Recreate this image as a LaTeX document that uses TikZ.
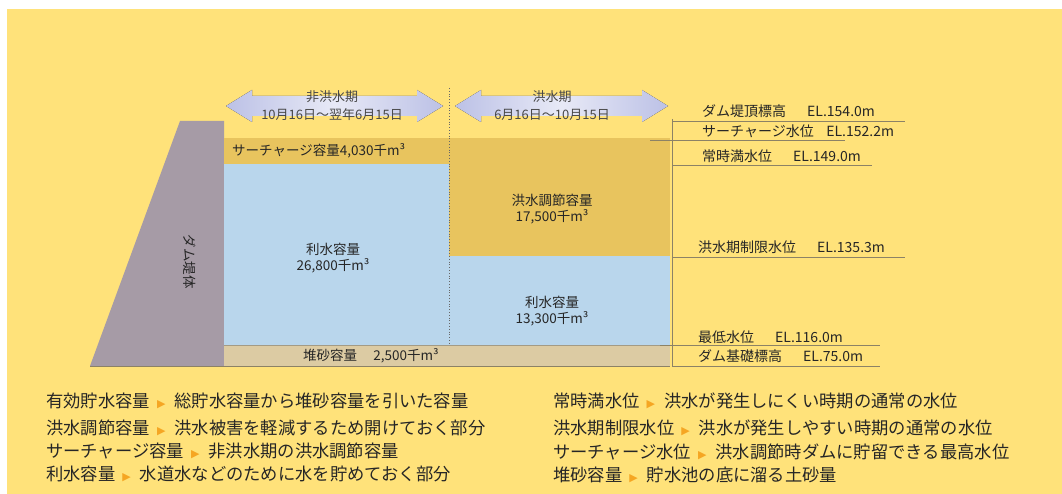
\documentclass[tikz,border=0pt]{standalone}
\usepackage{fontspec}
\setmainfont{Noto Sans CJK JP}
\newfontfamily\symfont{DejaVu Sans}
\definecolor{bg}{HTML}{FFE27A}
\definecolor{gold}{HTML}{E8C45E}
\definecolor{water}{HTML}{B9D6EC}
\definecolor{sand}{HTML}{DCCBA3}
\definecolor{dam}{HTML}{A69BA6}
\definecolor{lav}{HTML}{BCC1E6}
\definecolor{tri}{HTML}{F5A623}
\definecolor{ink}{HTML}{262626}
\definecolor{rule}{HTML}{8C8266}
\tikzset{
  blk/.style={font=\fontsize{13.5}{15.5}\selectfont, text=ink, align=center, inner sep=0pt},
  lvl/.style={font=\fontsize{14}{15}\selectfont, text=ink, anchor=west, inner sep=0pt},
  leg/.style={font=\fontsize{17.3}{18}\selectfont, text=ink, anchor=west, inner sep=0pt},
  per/.style={font=\fontsize{13}{14}\selectfont, text=ink!85, align=center, inner sep=0pt},
  thin rule/.style={draw=rule, line width=0.7pt},
  dblarrow/.style={left color=lav, right color=lav, middle color=lav!35!white, draw=none}
}
\newcommand{\tr}{\hspace{7pt}{\symfont\fontsize{11}{11}\selectfont\color{tri}▶}\hspace{9pt}}
\begin{document}
\begin{tikzpicture}[x=1pt,y=-1pt]
\useasboundingbox (0,0) rectangle (1062,494);
\fill[white] (0,0) rectangle (1062,494);
\fill[bg] (7,9) rectangle (1062,494);

% dam body
\fill[dam] (90,366) -- (180,121) -- (224,121) -- (224,366) -- cycle;

% left (non-flood period) storage
\fill[gold]  (224,138) rectangle (449,164);
\fill[water] (224,164) rectangle (449,345);
\fill[sand]  (224,345) rectangle (670,366);
% right (flood period) storage
\fill[gold]  (449,138) rectangle (670,256);
\fill[water] (449,256) rectangle (670,345);
\draw[rule!80, line width=0.5pt] (224,345) -- (670,345);
\draw[rule, line width=0.7pt] (90,366) -- (670,366);

% dotted divider
\draw[ink!70, line width=0.8pt, dotted] (449,88) -- (449,345);

% period arrows
\fill[dblarrow] (226,106) -- (252,90) -- (252,96) -- (417,96) -- (417,90) -- (443,106)
  -- (417,122) -- (417,116) -- (252,116) -- (252,122) -- cycle;
\fill[dblarrow] (455,106) -- (481,90) -- (481,96) -- (642,96) -- (642,90) -- (668,106)
  -- (642,122) -- (642,116) -- (481,116) -- (481,122) -- cycle;
\node[per] (np) at (332,97) {非洪水期};
\node[per] (npd) at (332,115) {10月16日～翌年6月15日};
\node[per] (fp) at (552,97) {洪水期};
\node[per] (fpd) at (552,115) {6月16日～10月15日};

% block labels
\node[blk, anchor=west] (sc) at (232,151) {サーチャージ容量4,030千m³};
\node[blk] (ri1) at (333,258) {利水容量\\26,800千m³};
\node[blk] (fc) at (552,209) {洪水調節容量\\17,500千m³};
\node[blk] (ri2) at (552,311) {利水容量\\13,300千m³};
\node[blk, anchor=west] (sd) at (303,356) {堆砂容量\hspace{1.2em}2,500千m³};
\node[blk, rotate=-90] (db) at (190,262) {ダム堤体};

% level lines
\draw[thin rule] (672,119) -- (672,366);
\draw[thin rule] (672,121) -- (905,121);
\draw[thin rule] (650,140) -- (845,140);
\draw[thin rule] (672,165) -- (872,165);
\draw[thin rule] (672,257) -- (905,257);
\draw[thin rule] (660,345) -- (880,345);
\draw[thin rule] (672,366) -- (880,366);

\node[lvl] (l1) at (702,111) {ダム堤頂標高\hspace{1.5em}EL.154.0m};
\node[lvl] (l2) at (702,131) {サーチャージ水位\hspace{0.9em}EL.152.2m};
\node[lvl] (l3) at (702,156) {常時満水位\hspace{1.5em}EL.149.0m};
\node[lvl] (l4) at (698,247) {洪水期制限水位\hspace{1.5em}EL.135.3m};
\node[lvl] (l5) at (698,337) {最低水位\hspace{1.5em}EL.116.0m};
\node[lvl] (l6) at (698,356) {ダム基礎標高\hspace{1.5em}EL.75.0m};

% legend
\node[leg] (g1) at (46,401) {有効貯水容量\tr 総貯水容量から堆砂容量を引いた容量};
\node[leg] (g2) at (46,428) {洪水調節容量\tr 洪水被害を軽減するため開けておく部分};
\node[leg] (g3) at (46,451) {サーチャージ容量\tr 非洪水期の洪水調節容量};
\node[leg] (g4) at (46,474) {利水容量\tr 水道水などのために水を貯めておく部分};
\node[leg] (g5) at (553,401) {常時満水位\tr 洪水が発生しにくい時期の通常の水位};
\node[leg] (g6) at (553,428) {洪水期制限水位\tr 洪水が発生しやすい時期の通常の水位};
\node[leg] (g7) at (553,452) {サーチャージ水位\tr 洪水調節時ダムに貯留できる最高水位};
\node[leg] (g8) at (553,475) {堆砂容量\tr 貯水池の底に溜る土砂量};
\end{tikzpicture}
\end{document}
